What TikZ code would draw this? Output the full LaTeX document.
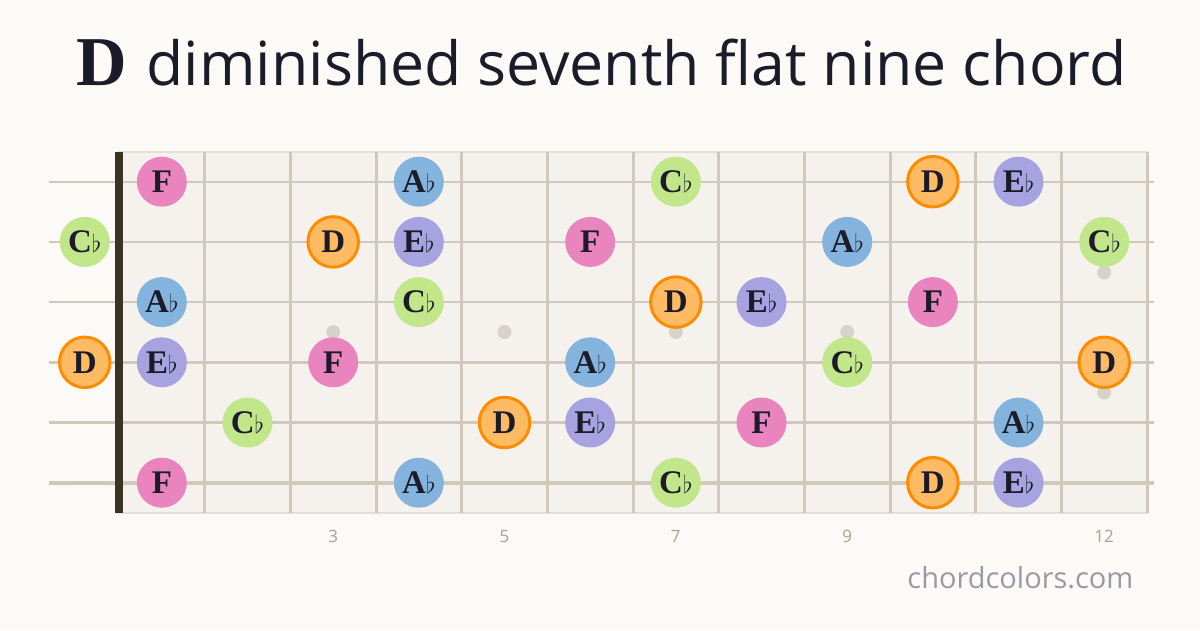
\documentclass[tikz,border=0pt]{standalone}
\usepackage{fontspec}
\setmainfont{Open Sans}
\newfontfamily\notefont{Liberation Serif}
\definecolor{paper}{HTML}{FBFAF6}
\definecolor{board}{HTML}{F5F2ED}
\definecolor{boardedge}{HTML}{E4DFD8}
\definecolor{fret}{HTML}{D0C8BB}
\definecolor{nut}{HTML}{3B3422}
\definecolor{inlay}{HTML}{D8D3C8}
\definecolor{ink}{HTML}{1C1B2A}
\definecolor{fretnum}{HTML}{A9A293}
\definecolor{site}{HTML}{9A99A6}
\definecolor{pinkF}{HTML}{EA84BE}
\definecolor{blueA}{HTML}{84B4DE}
\definecolor{purpleE}{HTML}{A7A3E0}
\definecolor{greenC}{HTML}{C2E68A}
\definecolor{orangeD}{HTML}{FFBB63}
\definecolor{rimD}{HTML}{FF8C00}
\begin{document}
\begin{tikzpicture}[x=1pt, y=-1pt]
    \tikzstyle{note} = [circle, minimum size = 50pt, inner sep = 0pt, text = ink, font = \notefont\bfseries\fontsize{33}{33}\selectfont]
    \tikzstyle{noteF} = [note, fill = pinkF]
    \tikzstyle{noteA} = [note, fill = blueA]
    \tikzstyle{noteE} = [note, fill = purpleE]
    \tikzstyle{noteC} = [note, fill = greenC]
    \tikzstyle{noteD} = [note, fill = orangeD, draw = rimD, line width = 3pt, minimum size = 50.5pt]
    \tikzstyle{fretline} = [fret, line width = 3pt]
    \tikzstyle{fretnum} = [text = fretnum, font = \fontsize{17}{17}\selectfont]
    \useasboundingbox (0,0) rectangle (1200,630);
    \fill[paper] (0,0) rectangle (1200,630);
    % board, frets and strings
    \filldraw[fill = board, draw = boardedge, line width = 1.5pt] (119,152) rectangle (1147,513);
    \foreach \k in {1,...,12}
        \draw[fretline] (119+85.67*\k,152) -- (119+85.67*\k,513);
    \foreach \s/\w in {1/2, 2/2.2, 3/2.6, 4/3, 5/3.4, 6/3.8}
        \draw[fret, line width = \w pt] (49,181.7+60.2*\s-60.2) -- (1154,181.7+60.2*\s-60.2);
    \fill[nut] (115,152) rectangle (123,513);
    % inlays
    \fill[inlay] (333.2,332) circle (7);
    \fill[inlay] (504.5,332) circle (7);
    \fill[inlay] (675.8,332) circle (7);
    \fill[inlay] (847.2,332) circle (7);
    \fill[inlay] (1104.2,272.6) circle (7);
    \fill[inlay] (1104.2,392.6) circle (7);
    \node[fretnum] (n3) at (333.2,536.5) {3};
    \node[fretnum] (n5) at (504.5,536.5) {5};
    \node[fretnum] (n7) at (675.8,536.5) {7};
    \node[fretnum] (n9) at (847.2,536.5) {9};
    \node[fretnum] (n12) at (1104.2,536.5) {12};
    % notes: x = fret - 0.5, y = string - 1
    \begin{scope}[shift = {(119,181.7)}, x = 85.67pt, y = -60.2pt]
    \node[noteF] (s1f1) at (0.5,0) {F};
    \node[noteA] (s1f4) at (3.5,0) {A$\flat$};
    \node[noteC] (s1f7) at (6.5,0) {C$\flat$};
    \node[noteD] (s1f10) at (9.5,0) {D};
    \node[noteE] (s1f11) at (10.5,0) {E$\flat$};
    \node[noteC] (s2f0) at (-0.4,1) {C$\flat$};
    \node[noteD] (s2f3) at (2.5,1) {D};
    \node[noteE] (s2f4) at (3.5,1) {E$\flat$};
    \node[noteF] (s2f6) at (5.5,1) {F};
    \node[noteA] (s2f9) at (8.5,1) {A$\flat$};
    \node[noteC] (s2f12) at (11.5,1) {C$\flat$};
    \node[noteA] (s3f1) at (0.5,2) {A$\flat$};
    \node[noteC] (s3f4) at (3.5,2) {C$\flat$};
    \node[noteD] (s3f7) at (6.5,2) {D};
    \node[noteE] (s3f8) at (7.5,2) {E$\flat$};
    \node[noteF] (s3f10) at (9.5,2) {F};
    \node[noteD] (s4f0) at (-0.4,3) {D};
    \node[noteE] (s4f1) at (0.5,3) {E$\flat$};
    \node[noteF] (s4f3) at (2.5,3) {F};
    \node[noteA] (s4f6) at (5.5,3) {A$\flat$};
    \node[noteC] (s4f9) at (8.5,3) {C$\flat$};
    \node[noteD] (s4f12) at (11.5,3) {D};
    \node[noteC] (s5f2) at (1.5,4) {C$\flat$};
    \node[noteD] (s5f5) at (4.5,4) {D};
    \node[noteE] (s5f6) at (5.5,4) {E$\flat$};
    \node[noteF] (s5f8) at (7.5,4) {F};
    \node[noteA] (s5f11) at (10.5,4) {A$\flat$};
    \node[noteF] (s6f1) at (0.5,5) {F};
    \node[noteA] (s6f4) at (3.5,5) {A$\flat$};
    \node[noteC] (s6f7) at (6.5,5) {C$\flat$};
    \node[noteD] (s6f10) at (9.5,5) {D};
    \node[noteE] (s6f11) at (10.5,5) {E$\flat$};
    \end{scope}
    % title and footer
    \node[anchor = base, text = ink, font = \fontsize{60.8}{60.8}\selectfont] (title) at (601.5,85)
        {{\notefont\bfseries\fontsize{70}{70}\selectfont D}\hspace{4pt} diminished seventh flat nine chord};
    \node[anchor = base east, text = site, font = \fontsize{29}{29}\selectfont] (site) at (1137,588) {chordcolors.com};
\end{tikzpicture}
\end{document}
